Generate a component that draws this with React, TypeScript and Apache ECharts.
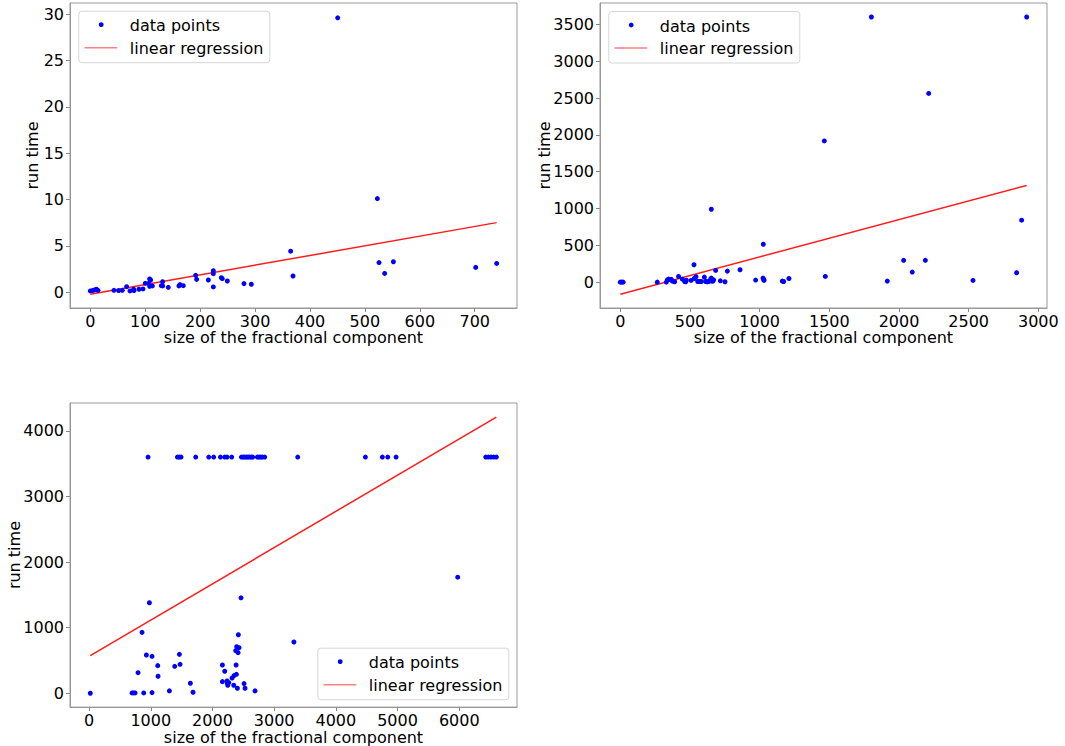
import React, { useEffect, useRef } from "react";
import * as echarts from "echarts";

// ---------- Panel 1 ----------
const p1X = [0, 4, 7.8, 10.9, 13.9, 43, 51.5, 58.2, 66.1, 72.2, 78.9, 79.5, 88.6, 95.9, 100.1, 106.2, 108, 109.8, 108, 112.9, 129.3, 131.7, 131.7, 142, 161.4, 163.3, 169.3, 191.8, 193.6, 214.9, 224, 224, 224, 238.6, 240.3, 249.5, 279.8, 293.2, 364.8, 369.1, 450.5, 522.7, 525.7, 536, 551.9, 701.8, 740];
const p1Y = [0.14, 0.18, 0.25, 0.32, 0.21, 0.21, 0.18, 0.21, 0.6, 0.14, 0.32, 0.18, 0.32, 0.36, 0.96, 0.96, 1.43, 1.32, 0.64, 0.68, 0.71, 1.14, 0.68, 0.53, 0.68, 0.82, 0.71, 1.82, 1.39, 1.32, 2.32, 2.0, 0.57, 1.57, 1.46, 1.21, 0.93, 0.86, 4.43, 1.75, 29.6, 10.1, 3.2, 2.03, 3.29, 2.68, 3.11];
const p1LineX = [0, 740];
const p1LineY = [-0.21, 7.51];
const p1XTicks = [0, 100, 200, 300, 400, 500, 600, 700];
const p1YTicks = [0, 5, 10, 15, 20, 25, 30];

// ---------- Panel 2 ----------
const p2X = [0, 10, 20, 265, 330, 337, 347, 361, 366, 373, 390, 418, 445, 461.5, 469, 473.5, 507, 528.5, 531, 543, 555, 569, 581, 603, 612, 622, 634, 648, 653, 655, 665, 669.5, 653, 684, 717.5, 751, 768, 859, 971, 1026, 1024, 1029, 1031, 1162, 1172, 1210, 1471, 1801.5, 2916, 2213, 1464, 2880, 2033, 2189, 2095, 2844, 1916, 2531];
const p2Y = [0, 0, 0, 0, 0, 32, 41, 37, 37, 14, 5, 77, 41, 9, 5, 27, 23, 236, 50, 73, 9, 9, 9, 68, 9, 5, 9, 41, 55, 14, 14, 32, 990, 159, 18, 5, 150, 168, 28, 514, 55, 37, 23, 14, 9, 50, 78, 3600, 3600, 2562, 1917, 841, 296, 296, 137, 128, 14, 23];
const p2LineX = [0, 2916];
const p2LineY = [-163, 1313];
const p2XTicks = [0, 500, 1000, 1500, 2000, 2500, 3000];
const p2YTicks = [0, 500, 1000, 1500, 2000, 2500, 3000, 3500];

// ---------- Panel 3 ----------
const p3X = [956, 1432, 1459, 1491, 1729, 1940, 2020, 2129, 2199, 2237, 2312, 2469, 2496, 2523, 2550, 2577, 2604, 2631, 2653, 2728, 2755, 2782, 2809, 2847, 3382, 4479, 4754, 4841, 4976, 6429, 6472, 6515, 6558, 6602,
  20, 978, 859, 929, 1021, 1113, 1118, 794, 697, 719, 746, 886, 1021, 1302, 1388, 1464, 1475, 1642, 1685, 2161, 2199, 2161, 2237, 2242, 2248, 2264, 2318, 2350, 2388, 2383, 2377, 2415, 2393, 2431, 2420, 2463, 2345, 2404, 2512, 2528, 2690, 3320, 5975];
const p3Y = [3600, 3600, 3600, 3600, 3600, 3600, 3600, 3600, 3600, 3600, 3600, 3600, 3600, 3600, 3600, 3600, 3600, 3600, 3600, 3600, 3600, 3600, 3600, 3600, 3600, 3600, 3600, 3600, 3600, 3600, 3600, 3600, 3600, 3600,
  0, 1379, 928, 583, 563, 421, 259, 314, 5, 5, 5, 5, 10, 36, 411, 593, 441, 152, 15, 431, 335, 177, 188, 152, 122, 162, 233, 269, 289, 431, 649, 619, 710, 695, 892, 1455, 122, 76, 147, 76, 36, 781, 1769];
const p3LineX = [20, 6602];
const p3LineY = [574, 4210];
const p3XTicks = [0, 1000, 2000, 3000, 4000, 5000, 6000];
const p3YTicks = [0, 1000, 2000, 3000, 4000];

const FONT = "DejaVu Sans";
const TEXT = "#000";
const FRAME = "#999";

function pairs(xs: number[], ys: number[]) {
  return xs.map((x, i) => [x, ys[i]]);
}

const plain = (v: number) => String(v);

function xAxis(gridIndex: number, min: number, max: number, ticks: number[], nameGap: number) {
  return {
    type: "value", gridIndex, min, max,
    name: "size of the fractional component", nameLocation: "middle", nameGap,
    nameTextStyle: { fontSize: 16, color: TEXT, fontFamily: FONT },
    axisLine: { show: true, onZero: false, lineStyle: { color: FRAME } },
    axisTick: { show: true, inside: false, length: 4, lineStyle: { color: "#888" }, customValues: ticks },
    axisLabel: { customValues: ticks, formatter: plain, fontSize: 16, color: TEXT, fontFamily: FONT, margin: 5 },
    splitLine: { show: false },
  };
}

function yAxis(gridIndex: number, min: number, max: number, ticks: number[], nameGap: number) {
  return {
    type: "value", gridIndex, min, max,
    name: "run time", nameLocation: "middle", nameGap, nameMoveOverlap: false,
    nameTextStyle: { fontSize: 16, color: TEXT, fontFamily: FONT },
    axisLine: { show: true, onZero: false, lineStyle: { color: FRAME } },
    axisTick: { show: true, inside: false, length: 4, lineStyle: { color: "#888" }, customValues: ticks },
    axisLabel: { customValues: ticks, formatter: plain, fontSize: 16, color: TEXT, fontFamily: FONT, margin: 6 },
    splitLine: { show: false },
  };
}

function legend(left: number, top: number) {
  return {
    type: "group", left, top,
    children: [
      { type: "rect", shape: { x: 0, y: 0, width: 191, height: 51.5, r: 3 }, style: { fill: "rgba(255,255,255,0.85)", stroke: "#d6d6d6", lineWidth: 1 } },
      { type: "circle", shape: { cx: 22.4, cy: 13.5, r: 2.4 }, style: { fill: "#0000ff" } },
      { type: "text", x: 51, y: 14.6, style: { text: "data points", fontSize: 16, fontFamily: FONT, fill: TEXT, verticalAlign: "middle" } },
      { type: "line", shape: { x1: 5.7, y1: 36.5, x2: 38.4, y2: 36.5 }, style: { stroke: "#ff8080", lineWidth: 1.5 } },
      { type: "text", x: 51, y: 37.3, style: { text: "linear regression", fontSize: 16, fontFamily: FONT, fill: TEXT, verticalAlign: "middle" } },
    ],
  };
}

export default function App() {
  const ref = useRef<HTMLDivElement>(null);
  useEffect(() => {
    if (!ref.current) return;
    const chart = echarts.init(ref.current, undefined, { renderer: "svg" });
    const scatter = (i: number, data: number[][]) => ({
      type: "scatter", xAxisIndex: i, yAxisIndex: i, data, symbolSize: 5,
      itemStyle: { color: "#0000ff", opacity: 1 }, z: 3,
    });
    const line = (i: number, data: number[][]) => ({
      type: "line", xAxisIndex: i, yAxisIndex: i, data, showSymbol: false, symbol: "none",
      lineStyle: { color: "#ff1a1a", width: 1.5 }, z: 2,
    });
    chart.setOption({
      animation: false,
      backgroundColor: "#fff",
      grid: [
        { left: 70, top: 3, width: 447, height: 305, show: true, borderColor: FRAME, borderWidth: 1, backgroundColor: "transparent" },
        { left: 600, top: 3, width: 447, height: 305, show: true, borderColor: FRAME, borderWidth: 1, backgroundColor: "transparent" },
        { left: 70, top: 403, width: 447, height: 305, show: true, borderColor: FRAME, borderWidth: 1, backgroundColor: "transparent" },
      ],
      xAxis: [
        xAxis(0, -37, 777, p1XTicks, 19),
        xAxis(1, -146, 3062, p2XTicks, 19),
        xAxis(2, -309, 6936, p3XTicks, 19),
      ],
      yAxis: [
        yAxis(0, -1.7, 31.2, p1YTicks, 30),
        yAxis(1, -351, 3790, p2YTicks, 48),
        yAxis(2, -211, 4424, p3YTicks, 48),
      ],
      series: [
        line(0, pairs(p1LineX, p1LineY)),
        scatter(0, pairs(p1X, p1Y)),
        line(1, pairs(p2LineX, p2LineY)),
        scatter(1, pairs(p2X, p2Y)),
        line(2, pairs(p3LineX, p3LineY)),
        scatter(2, pairs(p3X, p3Y)),
      ],
      graphic: [legend(78.3, 10.7), legend(608.3, 11), legend(317.3, 647.7)],
    });
    return () => chart.dispose();
  }, []);
  return <div ref={ref} style={{ position: "fixed", left: 0, top: 0, width: 1065, height: 746, background: "#fff" }} />;
}
